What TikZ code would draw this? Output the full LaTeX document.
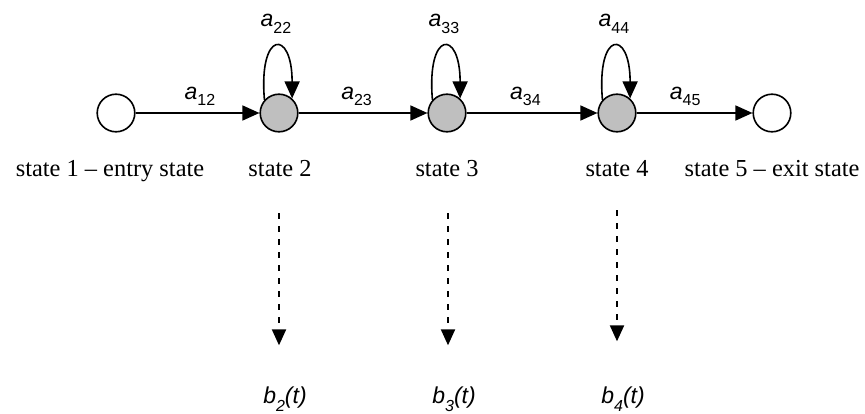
\documentclass[tikz,border=0pt]{standalone}
\usepackage{fontspec}
\setmainfont{Liberation Serif}
\newfontfamily\labfont{Liberation Sans}
\usetikzlibrary{arrows.meta}
\newcommand{\tlab}[1]{\textit{a}\raisebox{-3.5pt}{\fontsize{8}{9}\selectfont #1}}
\newcommand{\olab}[1]{\textit{b}\raisebox{-4pt}{\fontsize{8}{9}\selectfont\itshape #1}\textit{(t)}}

\begin{document}
\begin{tikzpicture}[x=0.5pt, y=0.5pt,
  state/.style={circle, draw, line width=0.8pt, minimum size=18.8pt, inner sep=0pt},
  emit/.style={state, fill=gray!50},
  tr/.style={line width=0.8pt, -{Triangle[length=8.5pt, width=7.5pt]}},
  obs/.style={line width=1pt, dash pattern=on 3pt off 3.5pt, -{Triangle[length=8pt, width=7pt]}},
  slab/.style={anchor=base, font=\fontsize{12.2}{14}\selectfont},
  alab/.style={anchor=base, inner sep=0pt, font=\labfont\fontsize{11.5}{13}\selectfont}]
  \useasboundingbox (0,0) rectangle (865,413);
  \node[state] (s1) at (116,300) {};
  \node[emit] (s2) at (279,300) {};
  \node[emit] (s3) at (447,300) {};
  \node[emit] (s4) at (617,300) {};
  \node[state] (s5) at (772,300) {};
  \node[slab] (l1) at (110,237) {state 1 -- entry state};
  \node[slab] (l2) at (280,237) {state 2};
  \node[slab] (l3) at (447,237) {state 3};
  \node[slab] (l4) at (617,237) {state 4};
  \node[slab] (l5) at (772,237) {state 5 -- exit state};
  \draw[tr] (s1) -- node[alab, pos=.52, yshift=7pt] {\tlab{12}} (s2);
  \draw[tr] (s2) -- node[alab, pos=.45, yshift=7pt] {\tlab{23}} (s3);
  \draw[tr] (s3) -- node[alab, pos=.45, yshift=7pt] {\tlab{34}} (s4);
  \draw[tr] (s4) -- node[alab, pos=.42, yshift=7pt] {\tlab{45}} (s5);
  \foreach \i in {2,3,4} \draw[tr] (s\i.138) to[out=95, in=90, distance=35pt] node[alab, yshift=10pt] {\tlab{\i\i}} (s\i.48);
  \foreach \i/\x/\top/\gap in {2/279/200/20.3pt, 3/448/200/20.3pt, 4/617/203/22.3pt} {
    \coordinate (d\i) at (\x,\top);
    \node[alab] (b\i) at (\x+6,10) {\olab{\i}};
    \draw[obs, shorten >=\gap] (d\i) -- (d\i |- b\i.north);
  }
\end{tikzpicture}
\end{document}
